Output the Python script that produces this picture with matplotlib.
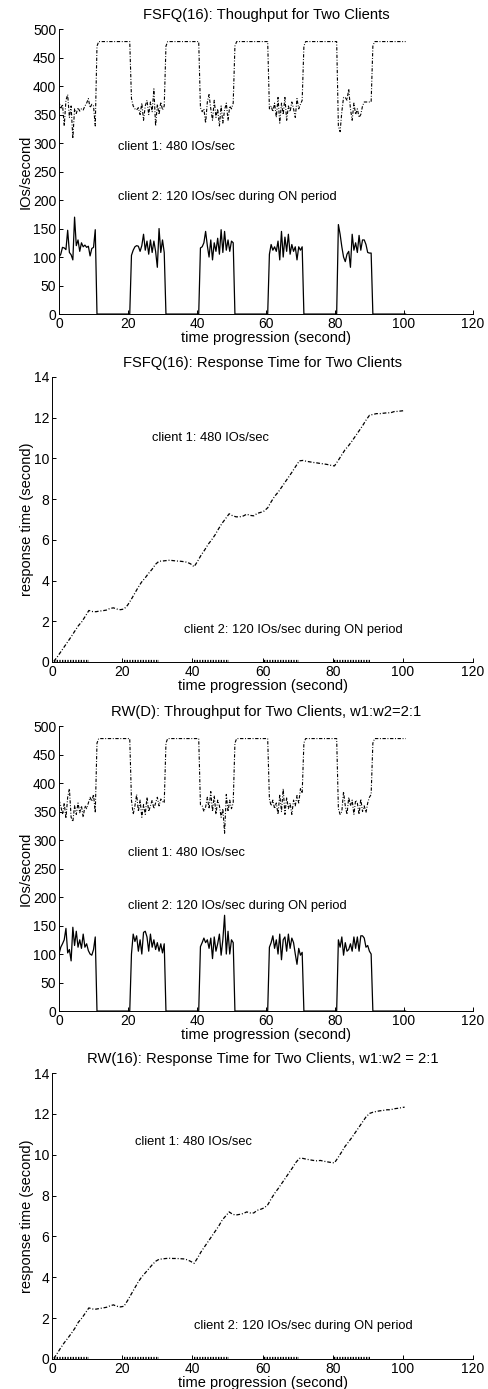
import numpy as np
import matplotlib
matplotlib.use("Agg")
import matplotlib.pyplot as plt

plt.rcParams['font.family'] = ['Liberation Sans', 'DejaVu Sans']
plt.rcParams['font.size'] = 10

# time grids (seconds)
t_tp = np.arange(0, 100.6, 0.5)     # throughput samples, 0 .. 100.5
t_rt = np.arange(0.5, 101, 1.0)     # response time samples, 0.5 .. 100.5

# ---- FSFQ(16) throughput, values during each ON period of client 2 ----
# first ON period covers t=0..10.5, the others t=20k+1 .. 20k+10.5
fsfq_c2_on = [
    [100, 105, 117, 116, 113, 147, 108, 104, 95, 170, 120, 130, 110, 125, 118, 121, 117, 119, 102, 115, 117, 148],
    [103, 112, 118, 120, 119, 110, 120, 140, 112, 128, 105, 130, 108, 128, 110, 82, 150, 108, 130, 108],
    [116, 118, 125, 145, 120, 100, 130, 95, 125, 110, 133, 105, 148, 108, 145, 112, 130, 110, 128, 125],
    [105, 122, 112, 118, 110, 128, 95, 145, 100, 135, 110, 140, 105, 122, 110, 118, 95, 118, 112, 118],
    [157, 140, 118, 100, 92, 105, 110, 82, 140, 112, 125, 108, 138, 112, 130, 130, 122, 108, 107, 107],
]
fsfq_c1_on = [
    [372, 360, 368, 330, 375, 385, 345, 365, 308, 360, 352, 362, 356, 360, 358, 365, 370, 378, 362, 368, 365, 330],
    [378, 365, 360, 358, 362, 350, 370, 340, 365, 375, 350, 372, 355, 395, 330, 368, 350, 372, 358, 365],
    [362, 355, 360, 335, 372, 385, 360, 340, 375, 345, 360, 330, 365, 335, 358, 370, 340, 365, 360, 370],
    [360, 365, 355, 370, 345, 380, 335, 370, 350, 380, 340, 365, 355, 372, 360, 345, 378, 360, 368, 375],
    [330, 320, 355, 380, 380, 375, 395, 360, 340, 370, 350, 360, 345, 350, 365, 372, 372, 372, 372, 372],
]

# ---- RW(D) throughput ----
rw_c2_on = [
    [100, 112, 118, 125, 145, 102, 108, 88, 147, 115, 140, 112, 125, 110, 135, 112, 118, 106, 100, 98, 108, 130],
    [100, 135, 122, 132, 105, 125, 100, 138, 140, 130, 105, 135, 112, 125, 108, 120, 105, 118, 102, 118],
    [113, 120, 128, 120, 125, 110, 128, 92, 130, 105, 118, 135, 98, 125, 168, 100, 140, 100, 125, 120],
    [112, 120, 132, 110, 125, 100, 135, 90, 125, 130, 105, 135, 110, 128, 120, 100, 82, 110, 98, 103],
    [125, 112, 130, 98, 120, 105, 108, 118, 105, 130, 110, 130, 105, 132, 132, 128, 112, 115, 105, 100],
]
rw_c1_on = [
    [370, 360, 345, 365, 338, 375, 390, 340, 332, 360, 345, 365, 348, 360, 340, 360, 355, 365, 375, 368, 380, 348],
    [370, 345, 360, 380, 350, 370, 340, 362, 345, 375, 350, 360, 370, 355, 365, 375, 360, 372, 368, 365],
    [362, 360, 350, 358, 375, 355, 385, 350, 378, 345, 370, 360, 340, 355, 312, 380, 350, 370, 355, 365],
    [372, 360, 370, 355, 365, 345, 380, 350, 390, 345, 375, 355, 365, 345, 370, 360, 378, 365, 390, 382],
    [355, 345, 350, 385, 360, 345, 375, 360, 370, 345, 370, 365, 345, 372, 350, 360, 348, 365, 375, 380],
]

c2_off = 0          # client 2 idle
c1_off = 478        # client 1 alone
c1_rise = 470       # first sample after client 2 stops

# ---- response times (seconds), client 1 ----
fsfq_rt_c1 = [0.03, 0.25, 0.5, 0.75, 1.0, 1.25, 1.52, 1.78, 1.98, 2.25,
              2.53, 2.48, 2.47, 2.5, 2.52, 2.55, 2.63, 2.66, 2.6, 2.57,
              2.6, 2.78, 3.05, 3.35, 3.65, 3.92, 4.12, 4.35, 4.55, 4.8,
              4.95, 4.96, 4.98, 5.0, 4.98, 4.96, 4.95, 4.93, 4.9, 4.82,
              4.68, 4.95, 5.25, 5.5, 5.78, 6.0, 6.25, 6.55, 6.82, 7.05,
              7.28, 7.18, 7.13, 7.13, 7.17, 7.26, 7.2, 7.18, 7.3, 7.35,
              7.42, 7.58, 7.88, 8.15, 8.35, 8.6, 8.85, 9.1, 9.35, 9.62,
              9.88, 9.9, 9.86, 9.83, 9.8, 9.78, 9.75, 9.73, 9.7, 9.66,
              9.63, 9.88, 10.15, 10.42, 10.62, 10.85, 11.1, 11.35, 11.6, 11.88,
              12.12, 12.16, 12.2, 12.2, 12.22, 12.24, 12.24, 12.3, 12.31, 12.33,
              12.35]
rw_rt_c1 = [0.03, 0.28, 0.55, 0.8, 1.02, 1.25, 1.5, 1.8, 2.0, 2.25,
            2.5, 2.45, 2.44, 2.47, 2.5, 2.53, 2.6, 2.65, 2.58, 2.55,
            2.58, 2.85, 3.15, 3.45, 3.75, 4.0, 4.2, 4.4, 4.6, 4.78,
            4.88, 4.9, 4.92, 4.93, 4.92, 4.92, 4.91, 4.9, 4.86, 4.78,
            4.68, 4.95, 5.25, 5.5, 5.75, 6.0, 6.25, 6.5, 6.8, 7.0,
            7.2, 7.08, 7.05, 7.08, 7.12, 7.2, 7.15, 7.15, 7.28, 7.33,
            7.4, 7.55, 7.85, 8.12, 8.35, 8.6, 8.85, 9.1, 9.35, 9.62,
            9.82, 9.82, 9.78, 9.75, 9.72, 9.7, 9.72, 9.68, 9.65, 9.62,
            9.6, 9.85, 10.12, 10.4, 10.62, 10.85, 11.1, 11.35, 11.6, 11.85,
            12.02, 12.08, 12.12, 12.15, 12.17, 12.2, 12.2, 12.25, 12.27, 12.3,
            12.33]
# client 2 response time: tiny, only while it is ON
rt_c2_on = 0.06

xticks = [0, 20, 40, 60, 80, 100, 120]
tp_yticks = [0, 50, 100, 150, 200, 250, 300, 350, 400, 450, 500]
rt_yticks = [0, 2, 4, 6, 8, 10, 12, 14]

titles = [
    "FSFQ(16): Thoughput for Two Clients",
    "FSFQ(16): Response Time for Two Clients",
    "RW(D): Throughput for Two Clients, w1:w2=2:1",
    "RW(16): Response Time for Two Clients, w1:w2 = 2:1",
]
label1 = "client 1: 480 IOs/sec"
label2 = "client 2: 120 IOs/sec during ON period"

# annotation positions (data coords) per panel
ann1 = [(17.1, 293), (28.5, 11.0), (19.9, 278), (23.7, 10.6)]
ann2 = [(17.1, 205), (37.5, 1.55), (20.1, 185), (40.6, 1.63)]


def throughput_series(on_lists, off_first, off_rest):
    vals = []
    for on in on_lists:
        vals += on
        vals += [off_first] + [off_rest] * 19
    return vals


def rt_client2():
    vals = []
    for k in range(5):
        vals += [rt_c2_on] * 11 + [np.nan] * 9
    vals += [np.nan]
    return vals


def style_axes(ax, title, ylabel):
    ax.spines['top'].set_visible(False)
    ax.spines['right'].set_visible(False)
    for s in ('left', 'bottom'):
        ax.spines[s].set_linewidth(0.7)
    ax.tick_params(direction='in', length=3, width=0.7, labelsize=10, pad=2)
    ax.set_xlim(0, 120)
    ax.set_xticks(xticks)
    ax.set_title(title, fontsize=10.6, pad=7)
    ax.set_ylabel(ylabel, fontsize=10.5, labelpad=0)
    ax.set_xlabel("time progression (second)", fontsize=10.5, labelpad=0)


fig = plt.figure(figsize=(4.88, 13.89), dpi=100)
positions = [
    [0.121, 0.7739, 0.848, 0.2052],
    [0.1066, 0.5234, 0.8627, 0.2052],
    [0.121, 0.2721, 0.848, 0.2052],
    [0.1066, 0.0216, 0.8627, 0.2059],
]
axes = [fig.add_axes(p) for p in positions]

dashdot = (0, (3, 1.5, 0.8, 1.5))

# throughput panels
for ax, c1_on, c2_on, i in [(axes[0], fsfq_c1_on, fsfq_c2_on, 0), (axes[2], rw_c1_on, rw_c2_on, 2)]:
    c1 = throughput_series(c1_on, c1_rise, c1_off)
    c2 = throughput_series(c2_on, c2_off, c2_off)
    ax.plot(t_tp, c1, color='black', lw=0.8, linestyle=dashdot)
    ax.plot(t_tp, c2, color='black', lw=0.9, linestyle='-')
    ax.set_ylim(0, 500)
    ax.set_yticks(tp_yticks)
    style_axes(ax, titles[i], "IOs/second")

# response time panels
for ax, rt1, i in [(axes[1], fsfq_rt_c1, 1), (axes[3], rw_rt_c1, 3)]:
    ax.plot(t_rt, rt1, color='black', lw=0.9, linestyle=dashdot)
    ax.plot(t_rt, rt_client2(), color='black', lw=1.6, linestyle=(0, (0.6, 0.6)))
    ax.set_ylim(0, 14)
    ax.set_yticks(rt_yticks)
    style_axes(ax, titles[i], "response time (second)")

for ax, p1, p2 in zip(axes, ann1, ann2):
    ax.text(p1[0], p1[1], label1, fontsize=9.3, va='center', ha='left')
    ax.text(p2[0], p2[1], label2, fontsize=9.3, va='center', ha='left')

fig.savefig("out.png", dpi=100)
